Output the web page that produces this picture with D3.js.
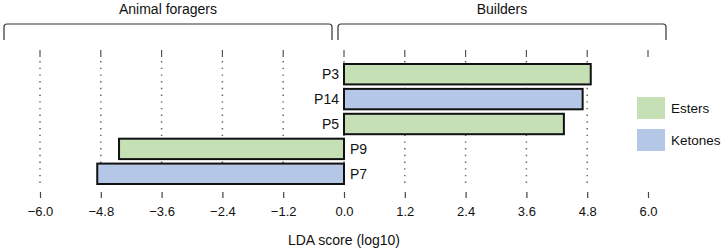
<!DOCTYPE html>
<html>
<head>
<meta charset="utf-8">
<script src="https://cdn.jsdelivr.net/npm/d3@7"></script>
<style>
  body { margin: 0; background: #fff; }
  text { font-family: "Liberation Sans", Arial, sans-serif; fill: #111; }
</style>
</head>
<body>
<svg id="chart" width="723" height="249"></svg>
<script>
// data
const features = ["P3", "P14", "P5", "P9", "P7"];
const scores = [4.87, 4.71, 4.34, -4.44, -4.87];
const classes = ["Esters", "Ketones", "Esters", "Esters", "Ketones"];
const tickValues = [-6.0, -4.8, -3.6, -2.4, -1.2, 0.0, 1.2, 2.4, 3.6, 4.8, 6.0];
const groups = ["Animal foragers", "Builders"];
const legendNames = ["Esters", "Ketones"];
const legendColors = ["#c5e0b4", "#b4c7e7"];

const svg = d3.select("#chart");

const x = d3.scaleLinear().domain([-6, 6]).range([40, 648]);
const y = d3.scaleBand().domain(features).range([63, 185]).paddingInner(0.18).paddingOuter(0.04);
const color = d3.scaleOrdinal().domain(legendNames).range(legendColors);

// grid lines: short solid cap at top, then dots
const grid = svg.append("g").attr("class", "grid");
grid.selectAll("line.cap")
  .data(tickValues)
  .join("line")
  .attr("class", "cap")
  .attr("x1", d => x(d)).attr("x2", d => x(d))
  .attr("y1", 50).attr("y2", 57)
  .attr("stroke", "#555").attr("stroke-width", 1.2);
grid.selectAll("line.dots")
  .data(tickValues.filter(d => d !== 6.0))
  .join("line")
  .attr("class", "dots")
  .attr("x1", d => x(d)).attr("x2", d => x(d))
  .attr("y1", 61).attr("y2", 188)
  .attr("stroke", "#666").attr("stroke-width", 1.5)
  .attr("stroke-dasharray", "1.4,5.3");

// bottom axis
const axis = d3.axisBottom(x)
  .tickValues(tickValues)
  .tickFormat(d3.format(".1f"))
  .tickSize(6)
  .tickPadding(9);
const ax = svg.append("g").attr("transform", "translate(0,192)").call(axis);
ax.select(".domain").remove();
ax.selectAll(".tick line").attr("stroke", "#444").attr("stroke-width", 1.2);
ax.selectAll(".tick text")
  .style("font-family", "'Liberation Sans', Arial, sans-serif")
  .style("font-size", "13px")
  .attr("fill", "#111");

svg.append("text")
  .attr("x", x(0)).attr("y", 245)
  .attr("text-anchor", "middle")
  .style("font-size", "14px")
  .text("LDA score (log10)");

// bars
svg.append("g").selectAll("rect")
  .data(features)
  .join("rect")
  .attr("x", (d, i) => x(Math.min(0, scores[i])))
  .attr("y", d => y(d))
  .attr("width", (d, i) => Math.abs(x(scores[i]) - x(0)))
  .attr("height", y.bandwidth())
  .attr("fill", (d, i) => color(classes[i]))
  .attr("stroke", "#111")
  .attr("stroke-width", 2);

// feature labels
svg.append("g").selectAll("text")
  .data(features)
  .join("text")
  .attr("x", (d, i) => scores[i] > 0 ? x(0) - 5 : x(0) + 6)
  .attr("y", d => y(d) + y.bandwidth() / 2)
  .attr("dy", "0.35em")
  .attr("text-anchor", (d, i) => scores[i] > 0 ? "end" : "start")
  .style("font-size", "14px")
  .text(d => d);

// group brackets
const brackets = [[4, 332], [338, 666]];
const br = svg.append("g");
br.selectAll("path")
  .data(brackets)
  .join("path")
  .attr("d", d => `M${d[0]},40 L${d[0]},27 Q${d[0]},24 ${d[0] + 3},24 L${d[1] - 3},24 Q${d[1]},24 ${d[1]},27 L${d[1]},40`)
  .attr("fill", "none")
  .attr("stroke", "#333")
  .attr("stroke-width", 1.2);
br.selectAll("text")
  .data(groups)
  .join("text")
  .attr("x", (d, i) => (brackets[i][0] + brackets[i][1]) / 2)
  .attr("y", 9)
  .attr("dy", "0.35em")
  .attr("text-anchor", "middle")
  .style("font-size", "14px")
  .text(d => d);

// legend
const lg = svg.append("g").attr("transform", "translate(637,97)");
const item = lg.selectAll("g")
  .data(legendNames)
  .join("g")
  .attr("transform", (d, i) => `translate(0,${i * 32})`);
item.append("rect")
  .attr("width", 28).attr("height", 22)
  .attr("fill", d => color(d));
item.append("text")
  .attr("x", 34).attr("y", 11)
  .attr("dy", "0.35em")
  .style("font-size", "13.5px")
  .text(d => d);
</script>
</body>
</html>
